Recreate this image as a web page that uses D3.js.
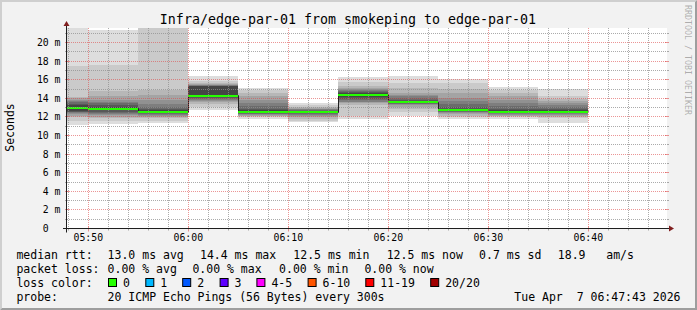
<!DOCTYPE html>
<html><head><meta charset="utf-8">
<script src="https://cdn.jsdelivr.net/npm/d3@7"></script>
<style>
html,body{margin:0;padding:0;background:#f2f2f2;overflow:hidden;}
svg{display:block;}
text{font-family:"DejaVu Sans Mono",monospace;white-space:pre;}
</style></head><body>
<svg id="c" width="697" height="310"></svg>
<script>
// ---------- data ----------
const title = "Infra/edge-par-01 from smokeping to edge-par-01";
const yAxisTitle = "Seconds";
const watermark = "RRDTOOL / TOBI OETIKER";
const viewStart = "05:47:52";
const viewEnd = "06:47:52";
const stepStarts = ["05:45","05:50","05:55","06:00","06:05","06:10","06:15","06:20","06:25","06:30","06:35"];
const stepMinutes = 5;
const yMax = 21.56; // ms, upper limit of axis
// 20 sorted ping RTTs (ms) per step
const pings = [
  [11.1,11.6,11.95,12.1,12.3,12.4,12.5,12.55,12.65,12.95,13.1,13.25,13.4,13.55,13.7,13.85,14.0,14.13,17.5,21.7],
  [11.25,11.6,11.85,12.0,12.2,12.35,12.45,12.55,12.7,12.8,13.0,13.1,13.25,13.45,13.6,13.8,14.3,14.8,17.6,21.3],
  [11.3,11.6,11.85,12.0,12.15,12.25,12.35,12.45,12.5,12.55,12.65,12.75,12.9,13.1,13.4,13.8,14.4,14.85,23,24],
  [12.75,13.05,13.35,13.55,13.7,13.8,13.9,14.0,14.1,14.25,14.35,15.3,15.32,15.35,15.4,15.45,15.5,15.6,15.9,16.35],
  [11.75,11.95,12.05,12.15,12.25,12.3,12.35,12.4,12.45,12.5,12.55,12.7,12.9,13.2,13.5,13.8,14.2,14.55,14.85,15.15],
  [11.4,11.6,11.8,12.0,12.15,12.25,12.35,12.42,12.46,12.5,12.52,12.56,12.62,12.7,12.8,12.9,13.0,13.1,13.3,13.45],
  [11.75,12.05,13.3,13.45,13.55,13.65,13.8,13.95,14.15,14.35,14.45,14.6,14.7,14.8,14.9,15.0,15.15,15.35,15.8,16.25],
  [12.1,12.55,12.85,13.1,13.25,13.35,13.42,13.47,13.52,13.55,13.6,13.7,13.85,14.0,14.2,14.4,14.6,15.1,15.6,16.35],
  [11.75,12.0,12.15,12.3,12.4,12.5,12.55,12.6,12.65,12.7,12.75,12.9,13.1,13.4,13.7,14.0,14.55,15.0,15.6,16.1],
  [11.75,11.95,12.05,12.15,12.25,12.32,12.38,12.43,12.47,12.5,12.55,12.7,12.9,13.2,13.5,13.85,14.2,14.55,14.85,15.25],
  [11.3,11.85,12.0,12.15,12.25,12.35,12.42,12.48,12.53,12.58,12.62,12.75,12.9,13.1,13.3,13.45,13.7,13.9,14.25,15.0]
];
const medians = [12.95,12.85,12.5,14.25,12.5,12.5,14.4,13.55,12.7,12.5,12.55];
const lossIndex = [0,0,0,0,0,0,0,0,0,0,0];
const lossLabels = ["0","1","2","3","4-5","6-10","11-19","20/20"];
const lossColors = ["#26ff00","#00b8ff","#0059ff","#5e00ff","#ff00ff","#ff5500","#ff0000","#a10000"];
const yMajorTicks = [2,4,6,8,10,12,14,16,18,20];
const yMinorTicks = [1,3,5,7,9,11,13,15,17,19,21];
const yTickLabels = ["2 m","4 m","6 m","8 m","10 m","12 m","14 m","16 m","18 m","20 m"];
const xTickLabels = ["05:50","06:00","06:10","06:20","06:30","06:40"];
const rttLabel = "median rtt:";
const rttItems = ["13.0 ms avg","14.4 ms max","12.5 ms min","12.5 ms now","0.7 ms sd","18.9   am/s"];
const lossLabel = "packet loss:";
const lossItems = ["0.00 % avg","0.00 % max","0.00 % min","0.00 % now"];
const lossColorLabel = "loss color:";
const probeLabel = "probe:";
const probeText = "20 ICMP Echo Pings (56 Bytes) every 300s";
const stamp = "Tue Apr  7 06:47:43 2026";

// ---------- layout ----------
const W = 697, H = 310;
const X0 = 67, X1 = 667, Y0 = 228.5, Y1 = 28;
const svg = d3.select("#c");
const pT = d3.timeParse("%H:%M:%S"), pM = d3.timeParse("%H:%M");
const x = d3.scaleTime().domain([pT(viewStart), pT(viewEnd)]).range([X0, X1]);
const y = d3.scaleLinear().domain([0, yMax]).range([Y0, Y1]);
const snap = v => Math.round(v - 0.5) + 0.5;

// background + 3D border
svg.append("rect").attr("width", W).attr("height", H).attr("fill", "#f2f2f2");
svg.append("path").attr("d", `M0,0L${W},0L${W-2},2L2,2L2,${H-2}L0,${H}Z`).attr("fill", "#cfcfcf");
svg.append("path").attr("d", `M${W},0L${W},${H}L0,${H}L2,${H-2}L${W-2},${H-2}L${W-2},2Z`).attr("fill", "#9e9e9e");

// canvas
svg.append("rect").attr("x", X0).attr("y", Y1).attr("width", X1 - X0).attr("height", Y0 - Y1 + 0.5).attr("fill", "#fff");
svg.append("clipPath").attr("id", "clip").append("rect").attr("x", X0).attr("y", Y1).attr("width", X1 - X0).attr("height", Y0 - Y1 + 0.5);
const plot = svg.append("g").attr("clip-path", "url(#clip)");

const cols = stepStarts.map((s, i) => {
  const t0 = pM(s);
  return { t0, t1: d3.timeMinute.offset(t0, stepMinutes), p: pings[i], med: medians[i], loss: lossIndex[i] };
});

// smoke bands
const half = 10;
for (let b = 1; b <= half; b++) {
  const g = Math.floor(190 / half * (half - b)) + 50;
  const col = d3.rgb(g, g, g).formatHex();
  plot.append("g").attr("shape-rendering", "crispEdges").selectAll("rect").data(cols).join("rect")
    .attr("x", d => x(d.t0)).attr("width", d => x(d.t1) - x(d.t0))
    .attr("y", d => y(d.p[20 - b])).attr("height", d => y(d.p[b - 1]) - y(d.p[20 - b]))
    .attr("fill", col);
}

// median line (step)
const medPts = cols.map(d => [d.t0, d.med]).concat([[cols[cols.length - 1].t1, cols[cols.length - 1].med]]);
plot.append("path").datum(medPts)
  .attr("d", d3.line().x(d => snap(x(d[0]))).y(d => snap(y(d[1]))).curve(d3.curveStepAfter))
  .attr("fill", "none").attr("stroke", "#202020").attr("stroke-width", 1);
// loss-coloured median band
plot.append("g").attr("shape-rendering", "crispEdges").selectAll("rect").data(cols).join("rect")
  .attr("x", d => x(d.t0)).attr("width", d => x(d.t1) - x(d.t0))
  .attr("y", d => Math.round(y(d.med)) - 1).attr("height", 2)
  .attr("fill", d => lossColors[d.loss]);

// grid (on top)
const grid = svg.append("g").attr("fill", "none").attr("stroke-width", 1);
const minorCol = "rgba(143,143,143,0.75)", majorCol = "rgba(222,79,79,0.6)";
yMinorTicks.filter(v => v <= yMax).forEach(v => {
  const yy = snap(y(v));
  grid.append("line").attr("x1", X0).attr("x2", X1).attr("y1", yy).attr("y2", yy).attr("stroke", minorCol).attr("stroke-dasharray", "1,1");
  grid.append("line").attr("x1", X0 - 2).attr("x2", X0).attr("y1", yy).attr("y2", yy).attr("stroke", minorCol);
  grid.append("line").attr("x1", X1).attr("x2", X1 + 2).attr("y1", yy).attr("y2", yy).attr("stroke", minorCol);
});
yMajorTicks.forEach(v => {
  const yy = snap(y(v));
  grid.append("line").attr("x1", X0).attr("x2", X1).attr("y1", yy).attr("y2", yy).attr("stroke", majorCol).attr("stroke-dasharray", "1,1");
  grid.append("line").attr("x1", X0 - 2).attr("x2", X0 + 2).attr("y1", yy).attr("y2", yy).attr("stroke", majorCol);
  grid.append("line").attr("x1", X1 - 2).attr("x2", X1 + 2).attr("y1", yy).attr("y2", yy).attr("stroke", majorCol);
});
const minorTimes = d3.timeMinute.every(2).range(x.domain()[0], x.domain()[1]).filter(t => t.getMinutes() % 10 !== 0);
const majorTimes = d3.timeMinute.every(10).range(x.domain()[0], x.domain()[1]);
minorTimes.forEach(t => {
  const xx = snap(x(t));
  grid.append("line").attr("x1", xx).attr("x2", xx).attr("y1", Y1).attr("y2", Y0).attr("stroke", minorCol).attr("stroke-dasharray", "1,1");
  grid.append("line").attr("x1", xx).attr("x2", xx).attr("y1", Y0).attr("y2", Y0 + 2).attr("stroke", minorCol);
});
majorTimes.forEach(t => {
  const xx = snap(x(t));
  grid.append("line").attr("x1", xx).attr("x2", xx).attr("y1", Y1).attr("y2", Y0).attr("stroke", majorCol).attr("stroke-dasharray", "1,1");
  grid.append("line").attr("x1", xx).attr("x2", xx).attr("y1", Y0 - 2).attr("y2", Y0 + 3).attr("stroke", majorCol);
});

// axes
const axisCol = "#1f1f1f", arrowCol = "#801f1f";
svg.append("line").attr("x1", X0 - 4).attr("x2", X1 + 4).attr("y1", Y0).attr("y2", Y0).attr("stroke", axisCol);
svg.append("line").attr("x1", X0 - 0.5).attr("x2", X0 - 0.5).attr("y1", Y0 + 4).attr("y2", Y1 - 4).attr("stroke", axisCol);
svg.append("path").attr("d", `M${X1 + 2},${Y0 - 3}L${X1 + 2},${Y0 + 3}L${X1 + 7},${Y0}Z`).attr("fill", arrowCol);
svg.append("path").attr("d", `M${X0 - 3.5},${Y1 - 2}L${X0 + 2.5},${Y1 - 2}L${X0 - 0.5},${Y1 - 7}Z`).attr("fill", arrowCol);

// axis labels via d3 axis generators (styled like rrdtool)
const yLab = svg.append("g").attr("font-size", "9.8px").attr("fill", "#000");
const charW = 9.8 * 0.602;
yLab.append("text").attr("x", 60.5 - 2 * charW).attr("y", y(0)).attr("dy", "0.35em").attr("text-anchor", "end").text("0");
yLab.selectAll("text.t").data(yMajorTicks).join("text").attr("class", "t")
  .attr("x", 60.5).attr("y", d => y(d)).attr("dy", "0.35em").attr("text-anchor", "end")
  .text((d, i) => yTickLabels[i]);
const xLab = svg.append("g").attr("font-size", "9.8px").attr("fill", "#000");
xLab.selectAll("text").data(majorTimes).join("text")
  .attr("x", d => x(d)).attr("y", 241).attr("text-anchor", "middle")
  .text((d, i) => xTickLabels[i]);

// title, y title, watermark
svg.append("text").attr("x", 348).attr("y", 24).attr("text-anchor", "middle").attr("font-size", "13.3px").text(title);
svg.append("text").attr("transform", "translate(14,127.5) rotate(-90)").attr("text-anchor", "middle").attr("font-size", "11.5px").text(yAxisTitle);
svg.append("text").attr("transform", "translate(684.5,5) rotate(90)").attr("font-size", "8.3px").attr("fill", "rgba(0,0,0,0.3)").text(watermark);

// legend
const lg = svg.append("g").attr("font-size", "11.5px").attr("fill", "#000");
const LX = 16.4, VX = 107.6;
const rows = [258.5, 272.5, 286.5, 300.5];
lg.append("text").attr("x", LX).attr("y", rows[0]).text(rttLabel);
const rttX = [107.6, 200, 293.3, 386.7, 479.1, 557.8];
rttItems.forEach((s, i) => lg.append("text").attr("x", rttX[i]).attr("y", rows[0]).text(s));
lg.append("text").attr("x", LX).attr("y", rows[1]).text(lossLabel);
const lossX = [107.6, 192.4, 279.1, 364.4];
lossItems.forEach((s, i) => lg.append("text").attr("x", lossX[i]).attr("y", rows[1]).text(s));
lg.append("text").attr("x", LX).attr("y", rows[2]).text(lossColorLabel);
const boxX = [108, 145.3, 182.2, 219.6, 256.4, 307.6, 365.3, 430.2];
lossLabels.forEach((s, i) => {
  lg.append("rect").attr("x", boxX[i] + 0.5).attr("y", 278.5).attr("width", 8).attr("height", 8)
    .attr("fill", lossColors[i]).attr("stroke", "#000").attr("stroke-width", 1);
  lg.append("text").attr("x", boxX[i] + 15).attr("y", rows[2]).text(s);
});
lg.append("text").attr("x", LX).attr("y", rows[3]).text(probeLabel);
lg.append("text").attr("x", VX).attr("y", rows[3]).text(probeText);
lg.append("text").attr("x", 680.5).attr("y", rows[3]).attr("text-anchor", "end").text(stamp);
</script>
</body></html>
